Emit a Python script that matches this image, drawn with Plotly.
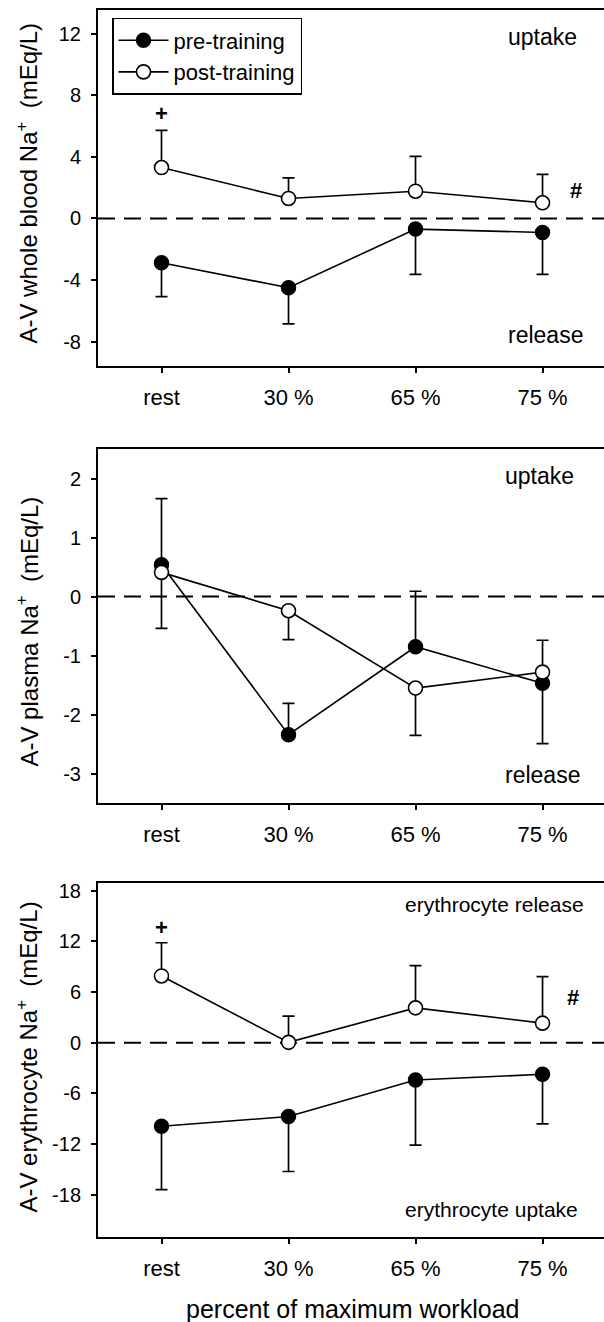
import plotly.graph_objects as go

# ---------------- data ----------------
categories = ["rest", "30 %", "65 %", "75 %"]

# Panel 1: A-V whole blood Na+
blood_pre = [-2.88, -4.50, -0.69, -0.91]
blood_pre_err_minus = [2.20, 2.35, 2.94, 2.72]
blood_post = [3.31, 1.30, 1.77, 1.02]
blood_post_err_plus = [2.42, 1.34, 2.27, 1.84]
blood_ticks = [-8, -4, 0, 4, 8, 12]

# Panel 2: A-V plasma Na+
plasma_pre = [0.54, -2.34, -0.85, -1.47]
plasma_pre_err_plus = [1.12, 0.53, 0.94, 0.0]
plasma_pre_err_minus = [1.08, 0.0, 0.0, 1.02]
plasma_post = [0.41, -0.24, -1.55, -1.28]
plasma_post_err_plus = [0.0, 0.0, 0.0, 0.54]
plasma_post_err_minus = [0.0, 0.49, 0.80, 0.0]
plasma_ticks = [-3, -2, -1, 0, 1, 2]

# Panel 3: A-V erythrocyte Na+
ery_pre = [-9.87, -8.73, -4.40, -3.73]
ery_pre_err_minus = [7.50, 6.50, 7.70, 5.86]
ery_post = [7.90, 0.05, 4.13, 2.32]
ery_post_err_plus = [3.93, 3.10, 5.00, 5.50]
ery_ticks = [-18, -12, -6, 0, 6, 12, 18]

FONT = "Liberation Sans, Arial, sans-serif"
W, H = 604, 1322

x = list(range(len(categories)))

fig = go.Figure()


def zeros(n):
    return [0.0] * n


def add_pair(pre, pre_plus, pre_minus, post, post_plus, post_minus, xa, ya, show):
    fig.add_trace(go.Scatter(
        x=x, y=pre, mode="lines+markers", name="pre-training",
        xaxis=xa, yaxis=ya, showlegend=show,
        line=dict(color="black", width=1.6),
        marker=dict(symbol="circle", size=14, color="black",
                    line=dict(color="black", width=1.5)),
        error_y=dict(type="data", symmetric=False, array=pre_plus,
                     arrayminus=pre_minus, color="black", thickness=1.7, width=6),
    ))
    fig.add_trace(go.Scatter(
        x=x, y=post, mode="lines+markers", name="post-training",
        xaxis=xa, yaxis=ya, showlegend=show,
        line=dict(color="black", width=1.6),
        marker=dict(symbol="circle", size=14, color="white",
                    line=dict(color="black", width=1.6)),
        error_y=dict(type="data", symmetric=False, array=post_plus,
                     arrayminus=post_minus, color="black", thickness=1.7, width=6),
    ))


n = len(categories)
add_pair(blood_pre, zeros(n), blood_pre_err_minus,
         blood_post, blood_post_err_plus, zeros(n), "x", "y", True)
add_pair(plasma_pre, plasma_pre_err_plus, plasma_pre_err_minus,
         plasma_post, plasma_post_err_plus, plasma_post_err_minus, "x2", "y2", False)
add_pair(ery_pre, zeros(n), ery_pre_err_minus,
         ery_post, ery_post_err_plus, zeros(n), "x3", "y3", False)


def ydom(top_px, bot_px):
    return [1 - bot_px / H, 1 - top_px / H]


xdom = [98 / W, 1.0]
xrange_ = [-0.5, 3.484]

xcommon = dict(
    range=xrange_, tickmode="array", tickvals=x, ticktext=categories,
    showline=True, linecolor="black", linewidth=2, mirror=True,
    ticks="outside", ticklen=5, tickwidth=1.5, tickcolor="black",
    showgrid=False, zeroline=False, domain=xdom,
    tickfont=dict(family=FONT, size=22, color="black"),
    ticklabelstandoff=5,
)
ycommon = dict(
    showline=True, linecolor="black", linewidth=2, mirror=False,
    ticks="outside", ticklen=5, tickwidth=1.5, tickcolor="black",
    showgrid=False, zeroline=False, tickmode="array",
    tickfont=dict(family=FONT, size=20, color="black"),
    ticklabelstandoff=6,
)

panels = [
    dict(top=7, bot=364, yr=[-9.6, 13.55], ticks=blood_ticks),
    dict(top=447, bot=802, yr=[-3.5, 2.5], ticks=plasma_ticks),
    dict(top=882, bot=1237, yr=[-23.0, 18.9], ticks=ery_ticks),
]

layout_axes = {}
for i, p in enumerate(panels):
    sfx = "" if i == 0 else str(i + 1)
    layout_axes["xaxis" + sfx] = dict(xcommon, anchor="y" + sfx)
    layout_axes["yaxis" + sfx] = dict(ycommon, anchor="x" + sfx, domain=ydom(p["top"], p["bot"]),
                                      range=p["yr"], tickvals=p["ticks"],
                                      ticktext=[str(v) for v in p["ticks"]])

fig.update_layout(**layout_axes)

# dashed zero lines
for i in range(3):
    sfx = "" if i == 0 else str(i + 1)
    fig.add_shape(type="line", xref=f"x{sfx} domain", yref=f"y{sfx}", x0=0, x1=1, y0=0, y1=0,
                  line=dict(color="black", width=2, dash="17px,9px"), layer="below")

ann = []
# y titles
ytitles = [
    ("A-V whole blood Na<sup>+</sup>  (mEq/L)", 181),
    ("A-V plasma Na<sup>+</sup>  (mEq/L)", 630),
    ("A-V erythrocyte Na<sup>+</sup>  (mEq/L)", 1057),
]
for t, ypx in ytitles:
    ann.append(dict(text=t, xref="paper", yref="paper", x=27 / W, y=1 - ypx / H,
                    xanchor="center", yanchor="middle", textangle=-90, showarrow=False,
                    font=dict(family=FONT, size=24, color="black")))

# x title
ann.append(dict(text="percent of maximum workload", xref="paper", yref="paper",
                x=352 / W, y=1 - 1309 / H, xanchor="center", yanchor="middle",
                showarrow=False, font=dict(family=FONT, size=25, color="black")))

# region labels
region = [
    ("uptake", "x", "y", 3.0, 11.8), ("release", "x", "y", 3.02, -7.57),
    ("uptake", "x2", "y2", 2.98, 2.05), ("release", "x2", "y2", 3.0, -3.03),
    ("erythrocyte release", "x3", "y3", 2.62, 16.35),
    ("erythrocyte uptake", "x3", "y3", 2.60, -19.7),
]
for t, xa, ya, xv, yv in region:
    ann.append(dict(text=t, xref=xa, yref=ya, x=xv, y=yv, showarrow=False,
                    xanchor="center", yanchor="middle",
                    font=dict(family=FONT, size=23 if "ery" not in t else 21, color="black")))

# significance marks
marks = [
    ("+", "x", "y", 0, 6.81), ("#", "x", "y", 3.26, 1.84),
    ("+", "x3", "y3", 0, 13.6), ("#", "x3", "y3", 3.24, 5.35),
]
for t, xa, ya, xv, yv in marks:
    ann.append(dict(text="<b>" + t + "</b>", xref=xa, yref=ya, x=xv, y=yv, showarrow=False,
                    xanchor="center", yanchor="middle",
                    font=dict(family=FONT, size=22, color="black")))

fig.update_layout(
    width=W, height=H,
    margin=dict(l=0, r=0, t=0, b=0),
    paper_bgcolor="white", plot_bgcolor="white",
    annotations=ann,
    showlegend=True,
    legend=dict(x=112 / W, y=1 - 15 / H, xanchor="left", yanchor="top",
                bordercolor="black", borderwidth=1.5, bgcolor="white",
                font=dict(family=FONT, size=22, color="black"),
                tracegroupgap=0, itemwidth=50),
)

fig.write_html("out.html")
